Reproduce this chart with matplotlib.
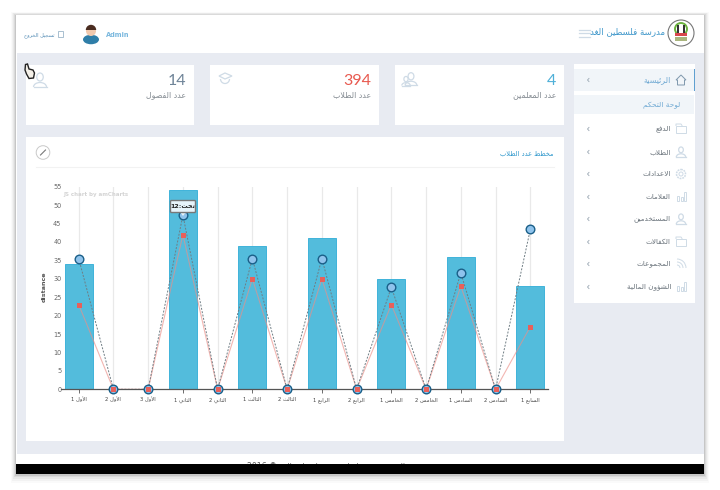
import re
import unicodedata
import matplotlib
matplotlib.use("Agg")
import matplotlib.pyplot as plt
from matplotlib.patches import Rectangle, Circle, Arc, FancyBboxPatch, Polygon, Ellipse, Wedge

categories = ["الأول 1", "الأول 2", "الأول 3", "الثاني 1", "الثاني 2", "الثالث 1", "الثالث 2",
              "الرابع 1", "الرابع 2", "الخامس 1", "الخامس 2", "السادس 1", "السادس 2", "السابع 1"]
bar_values = [34, 0, 0, 54, 0, 39, 0, 41, 0, 30, 0, 36, 0, 28]
circle_values = [35.5, 0, 0, 47.3, 0, 35.5, 0, 35.5, 0, 27.7, 0, 31.6, 0, 43.4]
square_values = [23, 0, 0, 42, 0, 30, 0, 30, 0, 23, 0, 28, 0, 17]
y_ticks = list(range(0, 60, 5))
menu_items = ["الدفع", "الطلاب", "الاعدادات", "العلامات", "المستخدمين", "الكفالات", "المجموعات", "الشؤون المالية"]
stat_numbers = ["14", "394", "4"]
stat_labels = ["عدد الفصول", "عدد الطلاب", "عدد المعلمين"]


def form(ch, suffix):
    try:
        return unicodedata.lookup(unicodedata.name(ch) + " " + suffix)
    except (KeyError, ValueError):
        return None


def is_arabic(ch):
    return ch is not None and "\u0621" <= ch <= "\u064a"


def joins_next(ch):
    return is_arabic(ch) and form(ch, "INITIAL FORM") is not None


def ar(text):
    """Contextual shaping and right-to-left ordering, which matplotlib does not do itself."""
    out = []
    i = 0
    n = len(text)
    while i < n:
        c = text[i]
        prev = text[i - 1] if i else None
        nxt = text[i + 1] if i + 1 < n else None
        linked = joins_next(prev)
        if c == "ل" and nxt in ("ا", "أ", "إ", "آ"):
            mid = {"ا": "", "أ": " WITH HAMZA ABOVE", "إ": " WITH HAMZA BELOW", "آ": " WITH MADDA ABOVE"}[nxt]
            out.append(unicodedata.lookup("ARABIC LIGATURE LAM WITH ALEF" + mid + (" FINAL FORM" if linked else " ISOLATED FORM")))
            i += 2
            continue
        if is_arabic(c):
            to_next = joins_next(c) and is_arabic(nxt)
            if linked and to_next:
                g = form(c, "MEDIAL FORM")
            elif linked:
                g = form(c, "FINAL FORM")
            elif to_next:
                g = form(c, "INITIAL FORM")
            else:
                g = form(c, "ISOLATED FORM")
            out.append(g or c)
        else:
            out.append(c)
        i += 1
    vis = "".join(reversed(out))
    return re.sub(r"[0-9]+", lambda m: m.group(0)[::-1], vis)


plt.rcParams["font.family"] = ["DejaVu Sans"]
fig = plt.figure(figsize=(7.2, 4.9), dpi=100, facecolor="white")
W, H = 720.0, 490.0
bg = fig.add_axes([0, 0, 1, 1], zorder=0)
bg.set_xlim(0, W)
bg.set_ylim(H, 0)
bg.axis("off")


def box(x0, y0, x1, y1, color, z=1, **kw):
    bg.add_patch(Rectangle((x0, y0), x1 - x0, y1 - y0, facecolor=color, edgecolor="none", zorder=z, **kw))


# window shadow
for k, a in [(9, .02), (7, .03), (5, .04), (3, .06), (1.5, .09)]:
    box(16 - k * .6, 15 - k * .3, 704 + k * .6, 474 + k, "#000000", 0.5, alpha=a)
box(16, 15, 704, 474, "white", 1)
box(17, 53, 704, 454, "#e8ebf2", 1.1)
box(16, 464, 704, 474, "black", 5)

# cards
card_x = [(26, 194), (210, 379), (395, 564)]
for x0, x1 in card_x:
    box(x0, 65, x1, 125, "white", 2)
box(26, 137, 564, 441, "white", 2)
box(574, 64, 695, 303, "white", 2)
num_colors = ["#6f8498", "#e8594f", "#4fb0d8"]
icon_c = "#cfdbe6"
for (x0, x1), num, lab, col in zip(card_x, stat_numbers, stat_labels, num_colors):
    bg.text(x1 - 8, 81, num, ha="right", va="center", fontsize=11.5, color=col, zorder=3, family="Lato")
    bg.text(x1 - 8, 95, ar(lab), ha="right", va="center", fontsize=5.7, color="#838a91", zorder=3)


def person(cx, cy, s=1.0, c=icon_c, lw=.9):
    bg.add_patch(Ellipse((cx, cy - 3 * s), 6.5 * s, 8 * s, fc="none", ec=c, lw=lw, zorder=3))
    bg.add_patch(Arc((cx, cy + 7 * s), 13 * s, 9 * s, theta1=180, theta2=360, ec=c, lw=lw, zorder=3))
    bg.plot([cx - 6.5 * s, cx + 6.5 * s], [cy + 7 * s, cy + 7 * s], color=c, lw=lw, zorder=3)


person(40, 80)
bg.add_patch(Polygon([(219, 76), (225, 73), (232, 76), (225, 79)], fc="none", ec=icon_c, lw=.9, zorder=3))
bg.add_patch(Arc((225, 79), 9, 9, theta1=0, theta2=180, ec=icon_c, lw=.9, zorder=3))
person(411, 79, .9)
person(406, 81, .65)

# header
bg.text(665, 32, ar("مدرسة فلسطين الغد"), ha="right", va="center", fontsize=6.2, color="#3f97ca", zorder=3)
bg.add_patch(Circle((681, 33), 13, fc="white", ec="#777777", lw=.8, zorder=3))
bg.add_patch(Circle((681, 29), 6, fc="none", ec="#6cb33f", lw=1.4, zorder=3))
box(677, 25, 679, 36, "#333333", 4)
box(683, 25, 685, 36, "#333333", 4)
box(675, 33, 687, 36, "#d8474c", 4)
box(675, 37, 687, 41, "#a9b57d", 4)
for y in (30, 33.5, 37):
    bg.plot([579, 590], [y, y], color="#cfdbe6", lw=.9, zorder=3)
bg.text(129, 35, "Admin", ha="right", va="center", fontsize=4.8, fontweight="bold", color="#7ab8de", zorder=3)
bg.add_patch(Ellipse((91, 39.5), 16, 9.5, fc="#2f7ea8", ec="none", zorder=3))
bg.add_patch(Circle((91, 31), 5, fc="#f1c9ae", ec="none", zorder=3))
bg.add_patch(Wedge((91, 30), 5.2, 180, 360, fc="#4a2c20", ec="none", zorder=4))
bg.text(55, 35, ar("تسجيل الخروج"), ha="right", va="center", fontsize=3.6, color="#4f89b3", zorder=3)
bg.add_patch(Rectangle((58, 31.5), 5, 6, fc="none", ec="#9bb5c9", lw=.6, zorder=3))

# sidebar
box(574, 69, 694, 91, "#f1f5f9", 3)
box(693.5, 69, 695, 91, "#5f9fd0", 3.5)
box(574, 95, 694, 114, "#f1f5f9", 3)


def chevron(y):
    bg.plot([589, 587.5, 589], [y - 1.6, y, y + 1.6], color="#9aa7b3", lw=.6, zorder=4)


chevron(80)
bg.text(671, 80, ar("الرئيسية"), ha="right", va="center", fontsize=5.7, color="#6fa9d3", zorder=4)
bg.add_patch(Polygon([(676, 80), (681, 75), (686, 80), (684.5, 80), (684.5, 85), (677.5, 85), (677.5, 80)],
                     fc="none", ec="#7f98ad", lw=.7, zorder=4))
bg.text(680, 105, ar("لوحة التحكم"), ha="right", va="center", fontsize=5.3, color="#6fa9d3", zorder=4)
menu_y = [129, 152, 174, 197, 219, 242, 264, 287]
for y, label in zip(menu_y, menu_items):
    chevron(y)
    bg.text(671, y, ar(label), ha="right", va="center", fontsize=5.2, color="#6b747c", zorder=4)


def folder(y):
    bg.add_patch(Rectangle((676, y - 3.5), 10, 7, fc="none", ec=icon_c, lw=.7, zorder=4))
    bg.plot([676, 676, 681, 682], [y - 3.5, y - 5, y - 5, y - 3.5], color=icon_c, lw=.7, zorder=4)


def barsicon(y):
    for dx, h in zip((677, 680.5, 684), (5, 4, 9)):
        bg.add_patch(Rectangle((dx, y + 4 - h), 2.4, h, fc="none", ec=icon_c, lw=.7, zorder=4))


folder(129)
person(681, 152, .72)
bg.add_patch(Circle((681, 174), 4.5, fc="none", ec=icon_c, lw=1.1, ls=(0, (1.2, .6)), zorder=4))
bg.add_patch(Circle((681, 174), 2, fc="none", ec=icon_c, lw=.7, zorder=4))
barsicon(197)
person(681, 219, .72)
folder(242)
for r in (3, 6, 9):
    bg.add_patch(Arc((677, 268), r * 2, r * 2, theta1=270, theta2=360, ec=icon_c, lw=.7, zorder=4))
barsicon(287)

# chart card header
bg.text(554, 153, ar("مخطط عدد الطلاب"), ha="right", va="center", fontsize=4.8, color="#3098cc", zorder=3)
bg.plot([36, 554], [167, 167], color="#f2f2f2", lw=.8, zorder=3)
bg.add_patch(Circle((43, 152.5), 6.8, fc="white", ec="#c9c9c9", lw=.7, zorder=3))
bg.plot([40.5, 45.5], [155, 150], color="#777777", lw=.8, zorder=4)

# footer, cut off by the black bar
bg.text(335, 465.5, "2016 © " + ar("جميع الحقوق محفوظة لمدرسة فلسطين الغد"), ha="center", va="center",
        fontsize=5.6, color="#555555", zorder=3)

# hand cursor
bg.add_patch(Polygon([(25.5, 64.5), (27.5, 64), (29, 69), (33, 70), (34.5, 73), (33.5, 78), (29, 78.5), (26.5, 74), (25, 70)],
                     fc="#f4f0e8", ec="#222222", lw=1, zorder=6))

# chart
left, right, top, bottom = 61.3, 547.7, 186.7, 389.3
ax = fig.add_axes([left / W, 1 - bottom / H, (right - left) / W, (bottom - top) / H], zorder=2)
ax.patch.set_alpha(0)
x = list(range(len(categories)))
ax.bar(x, bar_values, width=0.8, color="#53bcdc", edgecolor="#3fb3da", linewidth=.7, zorder=2)
ax.plot(x, square_values, color="#ec8f88", lw=.8, alpha=.65, zorder=3, clip_on=False)
ax.plot(x, circle_values, color="#6f7d84", lw=.7, ls=(0, (2, 1.5)), zorder=3, clip_on=False)
ax.plot(x, circle_values, ls="none", marker="o", ms=6.2, mfc="#8fc3ec", mec="#1a5f88", mew=1.0, zorder=4, clip_on=False)
ax.plot(x, square_values, ls="none", marker="s", ms=3.6, mfc="#e8605a", mec="#e8605a", mew=0, zorder=5, clip_on=False)
ax.set_xlim(-0.5, len(categories) - 0.5)
ax.set_ylim(0, 55)
ax.set_yticks(y_ticks)
ax.set_xticks(x)
ax.set_xticklabels([ar(c) for c in categories], fontsize=3.8, color="#444444")
ax.tick_params(axis="y", length=0, pad=0, labelsize=4.7, labelcolor="#666666")
ax.tick_params(axis="x", length=3, width=.6, color="#555555", pad=2.5)
ax.grid(axis="x", color="#e9e9e9", lw=.9, zorder=1)
ax.set_axisbelow(True)
for s in ("top", "left", "right"):
    ax.spines[s].set_visible(False)
ax.spines["bottom"].set_color("#555555")
ax.spines["bottom"].set_linewidth(.9)
ax.spines["bottom"].set_zorder(3.5)
ax.set_ylabel("distance", fontsize=4.6, fontweight="bold", color="#555555")
ax.yaxis.set_label_coords(47, 287, transform=bg.transData)
ax.text(63, 194, "JS chart by amCharts", transform=bg.transData, fontsize=4.0, fontweight="bold",
        color="#d4d4d4", va="center", ha="left", zorder=6)

# balloon over the fourth category
ov = fig.add_axes([0, 0, 1, 1], zorder=3)
ov.set_xlim(0, W)
ov.set_ylim(H, 0)
ov.axis("off")
ov.add_patch(Polygon([(180, 212), (186, 212), (183, 216)], fc="#e6f3fa", ec="none", zorder=2))
ov.add_patch(FancyBboxPatch((170.5, 200.5), 25, 12, boxstyle="round,pad=0,rounding_size=1",
                            fc="#e6f3fa", ec="#777777", lw=1, zorder=3))
ov.text(183, 206.5, ar("تحت:12"), ha="center", va="center", fontsize=4.5, fontweight="bold", color="#222222", zorder=4)

fig.savefig("out.png", dpi=100, facecolor="white")
